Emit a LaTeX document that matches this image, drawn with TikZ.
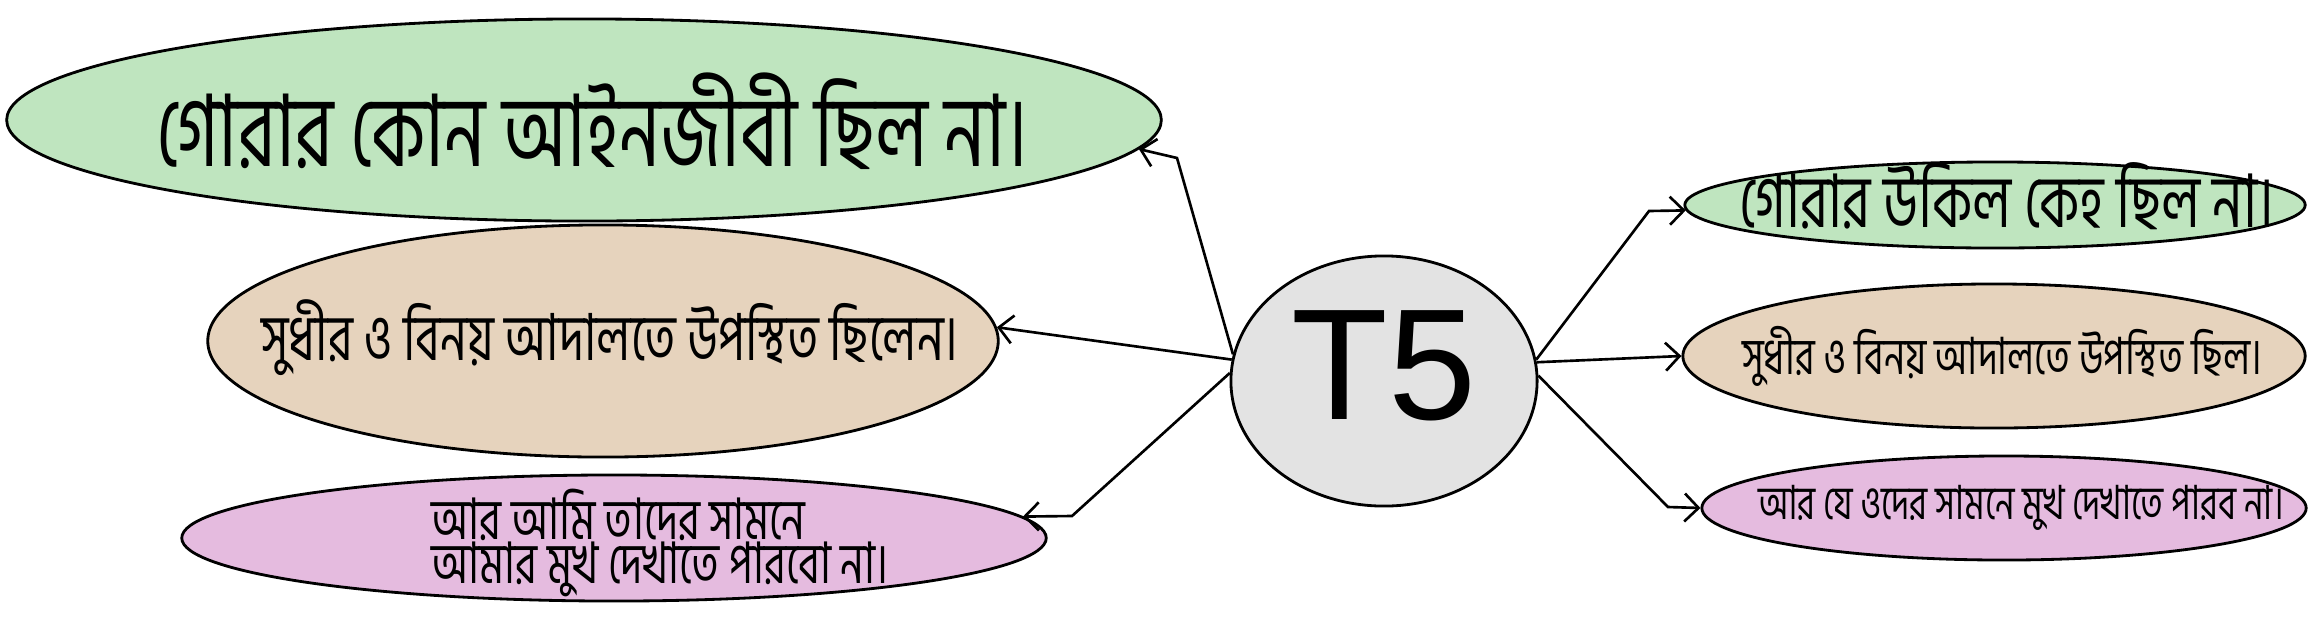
\documentclass[tikz,border=0pt]{standalone}
\usepackage{fontspec}
\usetikzlibrary{arrows,arrows.meta,shapes,positioning}
\newfontfamily\bnfont[Script=Bengali,FakeStretch=0.73]{Hind Siliguri}
\newfontfamily\hubfont{Liberation Sans}
\definecolor{leafgreen}{RGB}{191,229,191}
\definecolor{leaftan}{RGB}{230,211,189}
\definecolor{leafpink}{RGB}{229,187,223}
\definecolor{hubgray}{RGB}{227,227,227}

\begin{document}
\begin{tikzpicture}[x=0.01cm,y=-0.01cm]
    \tikzstyle{every node}+=[inner sep=0pt]
    \tikzstyle{leaf}=[ellipse,draw=black,line width=0.8pt]
    \tikzstyle{say}=[font=\bnfont,align=left]
    \tikzstyle{link}=[black,line width=0.75pt,-{Straight Barb[length=1.4mm,width=2.8mm]}]
    \useasboundingbox (0,0) rectangle (2313,624);

    \node [leaf,fill=hubgray,minimum width=3.06cm,minimum height=2.5cm] (hub) at (1384,381) {};
    \node [font=\hubfont\fontsize{45}{50}\selectfont] (hubtext) at (1384,366) {T5};

    \node [leaf,fill=leafgreen,minimum width=11.54cm,minimum height=2.02cm] (lawyerL) at (584,120) {};
    \node [leaf,fill=leaftan,minimum width=7.9cm,minimum height=2.32cm] (courtL) at (603,341) {};
    \node [leaf,fill=leafpink,minimum width=8.64cm,minimum height=1.26cm] (faceL) at (614,538) {};
    \node [leaf,fill=leafgreen,minimum width=6.2cm,minimum height=0.86cm] (lawyerR) at (1995,205) {};
    \node [leaf,fill=leaftan,minimum width=6.22cm,minimum height=1.44cm] (courtR) at (1994,356) {};
    \node [leaf,fill=leafpink,minimum width=6.04cm,minimum height=1.04cm] (faceR) at (2004,508) {};

    \node [say,font=\bnfont\fontsize{28.4}{34}\selectfont] (lawyerLtext) at (592,121) {গোরার কোন আইনজীবী ছিল না।};
    \node [say,font=\bnfont\fontsize{18.45}{22}\selectfont] (courtLtext) at (610,338) {সুধীর ও বিনয় আদালতে উপস্থিত ছিলেন।};
    \node [say,font=\bnfont\fontsize{16.3}{12.3}\selectfont,anchor=west] (faceLtext) at (431,543) {আর আমি তাদের সামনে\\আমার মুখ দেখাতে পারবো না।};
    \node [say,font=\bnfont\fontsize{21}{24}\selectfont] (lawyerRtext) at (2007,196) {গোরার উকিল কেহ ছিল না।};
    \node [say,font=\bnfont\fontsize{14.6}{18}\selectfont] (courtRtext) at (2002,356) {সুধীর ও বিনয় আদালতে উপস্থিত ছিল।};
    \node [say,font=\bnfont\fontsize{13.4}{16}\selectfont] (faceRtext) at (2021,508) {আর যে ওদের সামনে মুখ দেখাতে পারব না।};

    \coordinate (bendA) at (1177,158);
    \coordinate (bendB) at (1072,516);
    \coordinate (bendC) at (1649,211);
    \coordinate (bendD) at (1668,507);

    \draw [link] (hub.170) -- (bendA) -- (lawyerL.-3);
    \draw [link] (hub.172) -- (courtL.2);
    \draw [link] (hub.177) -- (bendB) -- (faceL.3);
    \draw [link] (hub.8) -- (bendC) -- (lawyerR.181);
    \draw [link] (hub.7) -- (courtR.180);
    \draw [link] (hub.2) -- (bendD) -- (faceR.180);
\end{tikzpicture}
\end{document}
